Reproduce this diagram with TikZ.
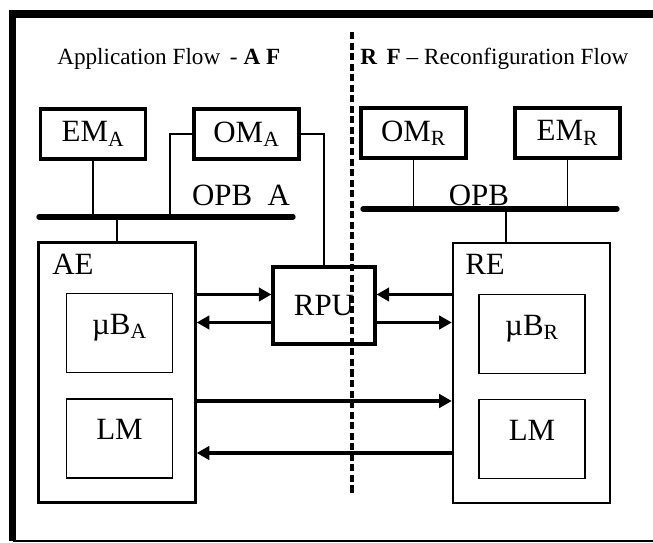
\documentclass[tikz,border=0pt]{standalone}
\usepackage{fontspec}
\setmainfont{Liberation Serif}
\usetikzlibrary{arrows.meta}
\begin{document}
\begin{tikzpicture}[x=0.025cm, y=-0.025cm, every node/.style={font=\fontsize{22}{25}\selectfont},
  topbox/.style={draw,line width=2.2pt,minimum width=2.625cm,minimum height=1.25cm,inner sep=0pt},
  bigbox/.style={draw,line width=1.8pt,minimum width=3.92cm,minimum height=6.5cm},
  inbox/.style={draw,line width=1.2pt,minimum width=2.65cm,minimum height=1.98cm,text depth=0.45cm},
  bus/.style={line width=3.8pt,line cap=round},
  wire/.style={line width=1pt},
  flow/.style={line width=2.6pt,-{Triangle[length=9pt,width=9.5pt]}},
  title/.style={font=\fontsize{16.5}{19}\selectfont,anchor=base west,inner sep=0pt}]
\useasboundingbox (0,0) rectangle (653,543);
\draw[line width=5.6pt] (653,14) -- (12.5,14) -- (12.5,541);
\draw[line width=1.5pt] (12.5,541) -- (653,541);
\node[title] (aftitle) at (57,65) {Application Flow \,- \textbf{A F}};
\node[title] (rftitle) at (360,65) {\textbf{R\, F} -- Reconfiguration Flow};
\coordinate (divtop) at (352,32);
\coordinate (divbot) at (352,495);
\draw[line width=2.3pt,dash pattern=on 5pt off 2.5pt] (divtop) -- (divbot);
\node[topbox] (ema) at (93,134) {EM\textsubscript{A}};
\node[topbox] (oma) at (246.5,134) {OM\textsubscript{A}};
\node[topbox] (omr) at (413.5,133) {OM\textsubscript{R}};
\node[topbox] (emr) at (567.5,133) {EM\textsubscript{R}};
\coordinate (busaw) at (39,217);
\coordinate (busae) at (293,217);
\coordinate (busrw) at (363,209);
\coordinate (busre) at (617,209);
\draw[bus] (busaw) -- (busae);
\draw[bus] (busrw) -- (busre);
\node[anchor=base,inner sep=0pt] (opba) at (241,206) {OPB\ \ A};
\node[anchor=base,inner sep=0pt] (opbr) at (479,206) {OPB};
\node[bigbox] (ae) at (117,372.5) {};
\node[bigbox] (re) at (531.5,373) {};
\node[anchor=base west,inner sep=0pt] (aelbl) at (52,275) {AE};
\node[anchor=base west,inner sep=0pt] (relbl) at (465,275) {RE};
\node[inbox] (uba) at (119.5,333) {µB\textsubscript{A}};
\node[inbox] (lma) at (119.5,438.5) {LM};
\node[inbox] (ubr) at (532,334) {µB\textsubscript{R}};
\node[inbox] (lmr) at (532,439) {LM};
\node[draw,line width=2.2pt,minimum width=2.55cm,minimum height=1.925cm] (rpu) at (324,305.5) {RPU};
\coordinate (tapa) at (170,217);
\coordinate (tapr) at (506,209);
\draw[wire] (ema.south) -- (ema.south |- busaw);
\draw[wire] (oma.west) -| (tapa);
\draw[wire] (oma.east) -| (rpu.north);
\draw[wire] (ae.north) -- (ae.north |- busaw);
\draw[wire] (omr.south) -- (omr.south |- busrw);
\draw[wire] (emr.south) -- (emr.south |- busrw);
\draw[wire] (tapr) -- (tapr |- re.north);
\coordinate (rowa) at (0,294.5);
\coordinate (rowb) at (0,322.5);
\coordinate (rowc) at (0,401);
\coordinate (rowd) at (0,453);
\draw[flow] (ae.east |- rowa) -- (rpu.west |- rowa);
\draw[flow] (re.west |- rowa) -- (rpu.east |- rowa);
\draw[flow] (rpu.west |- rowb) -- (ae.east |- rowb);
\draw[flow] (rpu.east |- rowb) -- (re.west |- rowb);
\draw[flow] (ae.east |- rowc) -- (re.west |- rowc);
\draw[flow] (re.west |- rowd) -- (ae.east |- rowd);
\end{tikzpicture}
\end{document}
